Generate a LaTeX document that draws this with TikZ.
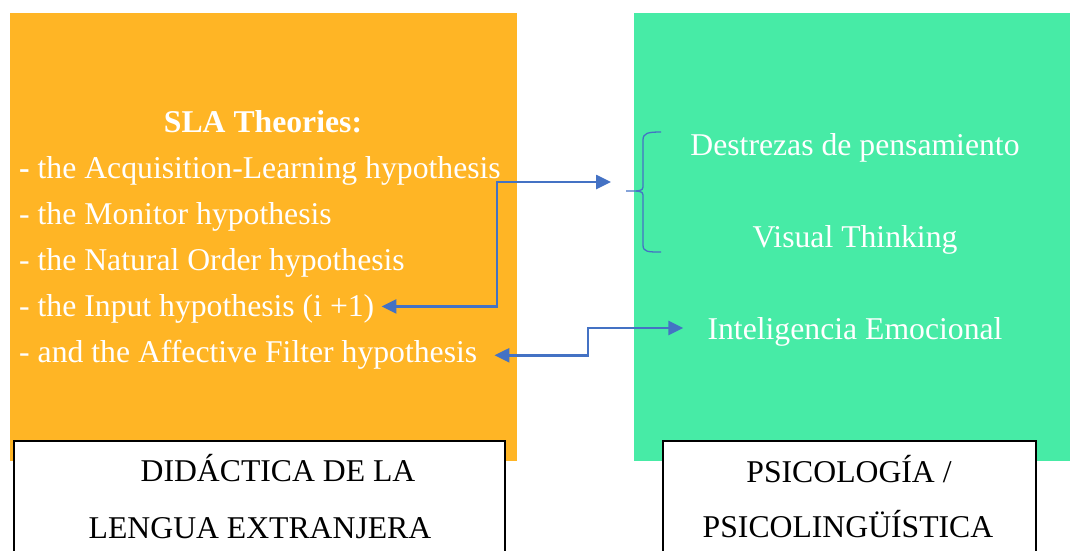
\documentclass[tikz,border=0pt]{standalone}
\usepackage{fontspec}
\setmainfont{Liberation Serif}
\usetikzlibrary{arrows.meta}
\definecolor{orangebox}{RGB}{255,181,37}
\definecolor{greenbox}{RGB}{71,235,166}
\definecolor{conncol}{RGB}{68,114,196}
\begin{document}
\begin{tikzpicture}[x=1pt,y=-1pt,
  txt/.style={font=\fontsize{31.7}{38}\selectfont,inner sep=2pt},
  wtxt/.style={txt,text=white,anchor=base west},
  ctxt/.style={txt,anchor=base},
  labelbox/.style={draw=black,line width=1.5pt,fill=white},
  conn/.style={draw=conncol,line width=2.6pt,{Triangle[length=15pt,width=14pt]}-{Triangle[length=15pt,width=14pt]}},
  bracestyle/.style={draw=conncol,line width=1.3pt}
]
\useasboundingbox (0,0) rectangle (1070,550);
\clip (0,0) rectangle (1070,550);
% panels
\fill[orangebox] (10,13) rectangle (517,461);
\fill[greenbox] (634,13) rectangle (1070,461);
% label boxes
\draw[labelbox] (14,441) rectangle (505,570);
\draw[labelbox] (663,441) rectangle (1036,570);
% left texts
\node[ctxt,text=white] (title) at (263,132.5) {\textbf{SLA Theories:}};
\node[wtxt] (acq) at (17,178) {\textbf{-} the Acquisition-Learning hypothesis};
\node[wtxt] (mon) at (17,224) {- the Monitor hypothesis};
\node[wtxt] (nat) at (17,270) {- the Natural Order hypothesis};
\node[wtxt] (inp) at (17,316) {- the Input hypothesis (i +1)};
\node[wtxt] (aff) at (17,362) {- and the Affective Filter hypothesis};
% right texts
\node[ctxt,text=white] (des) at (855,155.5) {Destrezas de pensamiento};
\node[ctxt,text=white] (vis) at (855,247.5) {Visual Thinking};
\node[ctxt,text=white] (emo) at (855,339.5) {Inteligencia Emocional};
% bottom labels
\node[ctxt] (d1) at (278,481) {DIDÁCTICA DE LA};
\node[ctxt] (d2) at (260,538) {LENGUA EXTRANJERA};
\node[ctxt] (p1) at (849,482) {PSICOLOGÍA /};
\node[ctxt] (p2) at (848,537) {PSICOLINGÜÍSTICA};
% brace
\draw[bracestyle] (661,132) .. controls (648,132) and (643,133) .. (643,140) -- (643,184)
  .. controls (643,190) .. (636,191) -- (626,191);
\draw[bracestyle] (636,191) .. controls (643,192) .. (643,198) -- (643,245)
  .. controls (643,252) and (648,252) .. (661,252);
% connectors
\coordinate (k1) at (497,182);
\coordinate (t1) at (611,182);
\coordinate (k2) at (588,328);
\draw[conn,shorten <=5pt] ([yshift=2pt]inp.east) -| (k1) -- (t1);
\draw[conn,shorten <=15pt,shorten >=22pt] ([yshift=-1pt]aff.east) -| (k2) -- (k2 -| emo.west);
\end{tikzpicture}
\end{document}
